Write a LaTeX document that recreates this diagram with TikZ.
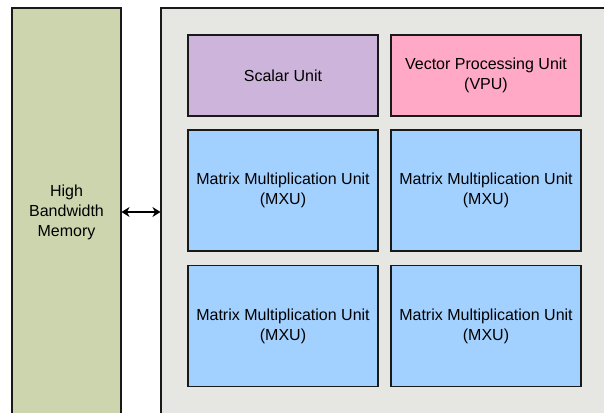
\documentclass[tikz,border=0pt]{standalone}
\usepackage{fontspec}
\setmainfont{Liberation Sans}
\usetikzlibrary{arrows.meta}
\definecolor{hbmgreen}{RGB}{205,213,174}
\definecolor{coregray}{RGB}{230,230,226}
\definecolor{scalarlilac}{RGB}{205,180,219}
\definecolor{vpupink}{RGB}{255,169,198}
\definecolor{mxublue}{RGB}{163,209,255}
\tikzstyle{unit} = [draw=black!90, line width=1.1pt, minimum width=190pt, text centered, align=center, inner sep=0pt, font=\fontsize{16pt}{20pt}\selectfont]
\tikzstyle{big} = [draw=black!90, line width=1.1pt, minimum height=408pt, inner sep=0pt, align=center, font=\fontsize{16pt}{20pt}\selectfont]

\begin{document}
\begin{tikzpicture}[x=1pt, y=-1pt, >={Stealth[length=8pt,width=10pt]}]
  \useasboundingbox (0,0) rectangle (604,412);
  \clip (0,0) rectangle (604,412);
  \node (a) at ( 66.5,212) [big, fill=hbmgreen, minimum width=109pt] {High\\Bandwidth\\Memory};
  \node (b) at ( 391,212) [big, fill=coregray, minimum width=460pt] {};
  \node (c) at ( 283,75.5) [unit, fill=scalarlilac, minimum height=81pt] {Scalar Unit};
  \node (d) at ( 486,75.5) [unit, fill=vpupink, minimum height=81pt] {Vector Processing Unit\\(VPU)};
  \node (e) at ( 283,190.5) [unit, fill=mxublue, minimum height=121pt] {Matrix Multiplication Unit\\(MXU)};
  \node (f) at ( 486,190.5) [unit, fill=mxublue, minimum height=121pt] {Matrix Multiplication Unit\\(MXU)};
  \node (g) at ( 283,326) [unit, fill=mxublue, minimum height=121pt] {Matrix Multiplication Unit\\(MXU)};
  \node (h) at ( 486,326) [unit, fill=mxublue, minimum height=121pt] {Matrix Multiplication Unit\\(MXU)};
  \draw [<->, line width=1.1pt] (a) to (b);
\end{tikzpicture}
\end{document}
